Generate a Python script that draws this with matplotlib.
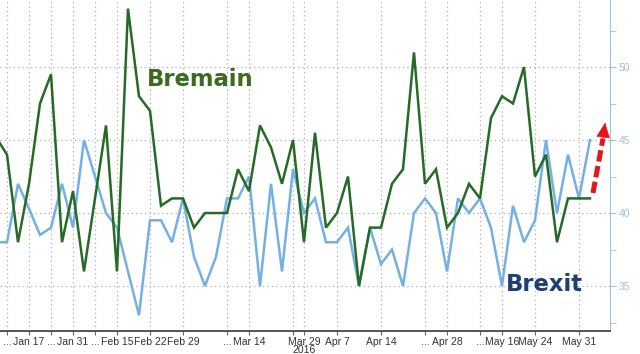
import matplotlib
matplotlib.use('Agg')
import matplotlib.pyplot as plt
import numpy as np

# ============================================
# Data - poll index (irregular poll dates)
# ============================================
bremain = [45.2, 44.0, 38.0, 42.0, 47.5, 49.5, 38.0, 41.5, 36.0, 41.0, 46.0,
           36.0, 54.0, 48.0, 47.0, 40.5, 41.0, 41.0, 39.0, 40.0, 40.0,
           40.0, 43.0, 41.5, 46.0, 44.5, 42.0, 45.0, 38.0, 45.5, 39.0,
           40.0, 42.5, 35.0, 39.0, 39.0, 42.0, 43.0, 51.0, 42.0, 43.0,
           39.0, 40.0, 42.0, 41.0, 46.5, 48.0, 47.5, 50.0, 42.5, 44.0,
           38.0, 41.0, 41.0, 41.0]
brexit = [38.0, 38.0, 42.0, 40.3, 38.5, 39.0, 42.0, 39.0, 45.0, 42.5, 40.0,
          39.0, 36.0, 33.0, 39.5, 39.5, 38.0, 41.0, 37.0, 35.0, 37.0,
          41.0, 41.0, 42.5, 35.0, 42.0, 36.0, 43.0, 40.0, 41.0, 38.0,
          38.0, 39.0, 35.0, 39.0, 36.5, 37.5, 35.0, 40.0, 41.0, 40.0,
          36.0, 41.0, 40.0, 41.0, 39.0, 35.0, 40.5, 38.0, 39.5, 45.0,
          40.0, 44.0, 41.0, 45.0]
x = np.arange(-1, len(bremain) - 1)

tick_pos = [0, 2, 4, 6, 8, 10, 13, 16, 20, 22, 26, 27, 30, 34, 38, 40, 43, 45, 48, 52]
tick_labels = ['...', 'Jan 17', '...', 'Jan 31', '...', 'Feb 15', 'Feb 22', 'Feb 29',
               '...', 'Mar 14', '', 'Mar 29\n2016', 'Apr 7', 'Apr 14', '...', 'Apr 28',
               '...', 'May 16', 'May 24', 'May 31']

plt.rcParams['font.family'] = ['Liberation Sans', 'DejaVu Sans']

fig = plt.figure(figsize=(6.4, 3.54), dpi=100)
ax = fig.add_axes([0, 23 / 354, 610 / 640, 331 / 354])

green = '#256b26'
blue = '#74b0e4'
axis_blue = '#9cc1e3'
red = '#e8141b'

ax.plot(x, brexit, color=blue, lw=1.8, solid_joinstyle='miter', zorder=3)
ax.plot(x, bremain, color=green, lw=1.8, solid_joinstyle='miter', zorder=4)

ax.set_xlim(-0.636, 54.82)
ax.set_ylim(31.92, 54.59)

# grid
ax.set_xticks(tick_pos)
ax.set_xticklabels(tick_labels, fontsize=7.5, color='#333333')
for lab in ax.get_xticklabels():
    lab.set_linespacing(0.8)
ax.set_yticks([35, 40, 45, 50])
ax.set_yticks([32.5, 37.5, 42.5, 47.5, 52.5], minor=True)
ax.grid(True, which='major', color='#b0b0b0', linestyle=(0, (1, 2.5)), lw=0.9)

ax.yaxis.tick_right()
ax.tick_params(axis='y', which='both', colors=axis_blue, direction='out', length=4,
               labelsize=7.5, pad=2)
ax.tick_params(axis='x', direction='out', length=3, color='#666666', pad=1)

for s in ['top', 'left']:
    ax.spines[s].set_visible(False)
ax.spines['right'].set_color(axis_blue)
ax.spines['bottom'].set_color('#555555')
ax.spines['bottom'].set_linewidth(1.4)

# labels
ax.text(0.24, 0.74, 'Bremain', transform=ax.transAxes, fontsize=16.3,
        fontweight='bold', color='#3b6b1c', family='DejaVu Sans')
ax.text(0.83, 0.122, 'Brexit', transform=ax.transAxes, fontsize=16.3,
        fontweight='bold', color='#1d3f72', family='DejaVu Sans')

# red dashed arrow
ax.annotate('', xy=(54.18, 45.1), xytext=(53.27, 41.37),
            arrowprops=dict(arrowstyle='-', color=red, lw=3.6, capstyle='butt',
                            shrinkA=0, shrinkB=0, linestyle=(0, (2.3, 0.9))),
            zorder=5)
ax.annotate('', xy=(54.38, 46.2), xytext=(54.14, 44.9),
            arrowprops=dict(arrowstyle='-|>,head_length=0.4,head_width=0.18',
                            color=red, lw=0.5, mutation_scale=25,
                            shrinkA=0, shrinkB=0),
            zorder=5)

fig.savefig('out.png', dpi=100)
